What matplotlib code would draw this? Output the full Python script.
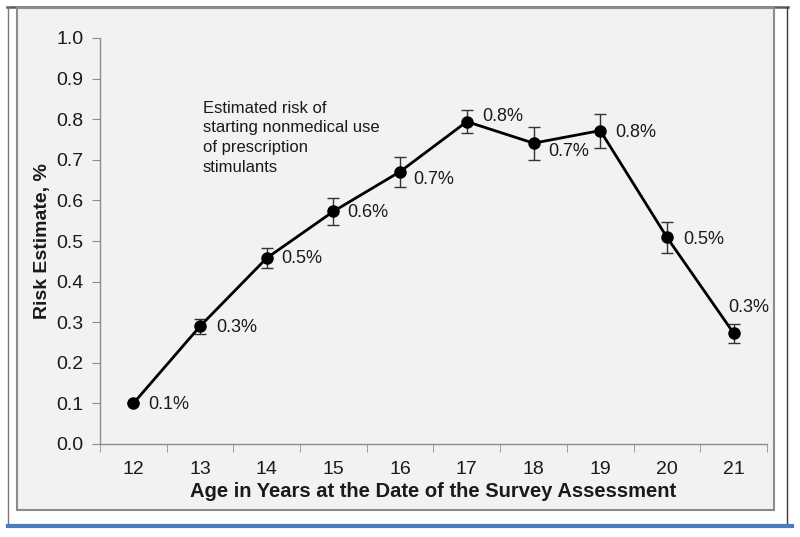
import matplotlib
matplotlib.use("Agg")
import matplotlib.pyplot as plt
from matplotlib.patches import Rectangle
from matplotlib.lines import Line2D

plt.rcParams['font.family'] = ['Liberation Sans', 'DejaVu Sans']

ages = [12, 13, 14, 15, 16, 17, 18, 19, 20, 21]
risk = [0.10, 0.29, 0.458, 0.573, 0.671, 0.794, 0.741, 0.772, 0.509, 0.273]
err = [0.0, 0.018, 0.025, 0.034, 0.037, 0.029, 0.041, 0.042, 0.039, 0.023]
labels = ["0.1%", "0.3%", "0.5%", "0.6%", "0.7%", "0.8%", "0.7%", "0.8%", "0.5%", "0.3%"]
yticks = [0.0, 0.1, 0.2, 0.3, 0.4, 0.5, 0.6, 0.7, 0.8, 0.9, 1.0]

W, H = 800, 537
fig = plt.figure(figsize=(8, 5.37), dpi=100)
fig.patch.set_facecolor('white')

def fx(px):
    return px / W

def fy(py):
    return 1 - py / H

# background panel
panel = Rectangle((fx(17), fy(510)), fx(774) - fx(17), fy(8) - fy(510),
                  transform=fig.transFigure, facecolor='#f2f2f2',
                  edgecolor='#8c8c8c', linewidth=1.5, zorder=-10)
fig.patches.append(panel)
# outer frame lines
for xs, ys, c, lw in [([7, 788], [7, 7], '#5a5a5a', 1.8),
                      ([7.5, 7.5], [7, 525], '#7a7a7a', 1.0),
                      ([787, 787], [7, 525], '#3a3a3a', 1.0),
                      ([8, 792], [526, 526], '#4a7ebb', 3.0)]:
    fig.lines.append(Line2D([fx(v) for v in xs], [fy(v) for v in ys],
                            transform=fig.transFigure, color=c, linewidth=lw, zorder=-10))

ax = fig.add_axes([fx(100), fy(444), fx(767) - fx(100), fy(38) - fy(444)])
ax.set_zorder(5)
ax.patch.set_alpha(0)

ax.errorbar(ages, risk, yerr=err, color='black', linewidth=2.0, marker='o',
            markersize=8, ecolor='#333333', elinewidth=1.0, capsize=4, capthick=1.0,
            zorder=3)

offsets = [(15, -1), (16, -1), (15, 0), (14, -1), (13, -8), (15, 5), (15, -8), (15, -2), (16, -2), (-5, 26)]
for x, y, lab, (dx, dy) in zip(ages, risk, labels, offsets):
    ax.annotate(lab, (x, y), xytext=(dx, dy), textcoords='offset pixels',
                ha='left', va='center', fontsize=13, color='#1a1a1a')

ax.text(13.04, 0.845, "Estimated risk of\nstarting nonmedical use\nof prescription\nstimulants",
        ha='left', va='top', fontsize=12, color='#1a1a1a', linespacing=1.38)

ax.set_xlim(11.5, 21.5)
ax.set_ylim(0, 1.0)
ax.set_yticks(yticks)
ax.set_yticklabels([f"{v:.1f}" for v in yticks])
ax.set_xticks(ages)
ax.set_xticks([a + 0.5 for a in [11] + ages], minor=True)
ax.tick_params(axis='x', which='major', length=0, labelsize=14, pad=12, colors='#1a1a1a')
ax.tick_params(axis='x', which='minor', length=6, direction='out', color='#8c8c8c')
ax.tick_params(axis='y', length=6, direction='out', color='#8c8c8c', labelsize=14, pad=6,
               labelcolor='#1a1a1a')

for s in ['top', 'right']:
    ax.spines[s].set_visible(False)
for s in ['left', 'bottom']:
    ax.spines[s].set_color('#8c8c8c')
    ax.spines[s].set_linewidth(1.0)

ax.set_xlabel("Age in Years at the Date of the Survey Assessment", fontsize=14.5,
              fontweight='bold', labelpad=3, color='#1a1a1a')
ax.set_ylabel("Risk Estimate, %", fontsize=14, fontweight='bold', labelpad=4,
              color='#1a1a1a')

fig.savefig("out.png", dpi=100, facecolor=fig.get_facecolor())
